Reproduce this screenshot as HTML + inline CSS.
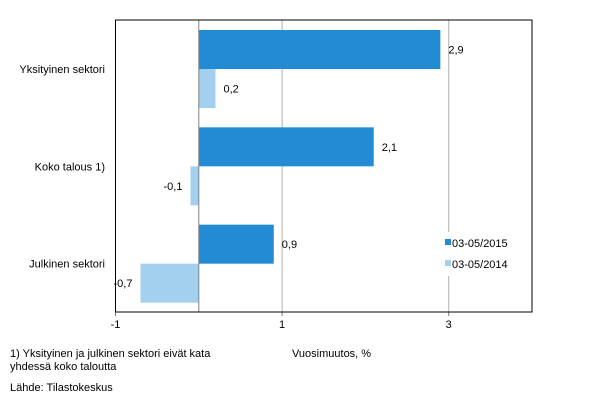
<!DOCTYPE html>
<html><head><meta charset="utf-8"><style>
body{margin:0;background:#fff;}
svg text{font-family:"Liberation Sans",sans-serif;font-size:11px;fill:#000;}
</style></head><body>
<svg width="611" height="402" xmlns="http://www.w3.org/2000/svg">
<g id="plot"></g>
<text x="10" y="357">1) Yksityinen ja julkinen  sektori eivät  kata</text>
<text x="10" y="370">yhdessä  koko taloutta</text>
<text x="10" y="391">Lähde:  Tilastokeskus</text>
<text x="292" y="357">Vuosimuutos,  %</text>
</svg>
<script>
const categories=["Yksityinen sektori","Koko talous 1)","Julkinen sektori"];
const series2015=[2.9,2.1,0.9];
const series2014=[0.2,-0.1,-0.7];
const tickValues=[-1,1,3];
const tickLabels=["-1","1","3"];
const legendLabels=["03-05/2015","03-05/2014"];
const NS="http://www.w3.org/2000/svg";
const g=document.getElementById('plot');
const L=115.5,R=532,T=20,B=312;
const xMin=-1,xMax=4;
const x=v=>L+(v-xMin)/(xMax-xMin)*(R-L);
function mk(tag,attrs,parent){const e=document.createElementNS(NS,tag);for(const k in attrs)e.setAttribute(k,attrs[k]);(parent||g).appendChild(e);return e;}
const fmt=v=>String(v).replace('.',',');
// gridlines
tickValues.forEach((t,i)=>{
 if(t!==xMin){const gl=mk('line',{x1:x(t),x2:x(t),y1:T,y2:B,stroke:'#b0b0b0','stroke-width':1});
 
 }
 const tk=mk('line',{x1:x(t),x2:x(t),y1:B,y2:B+4,stroke:'#808080'});
 
 
 const tl=mk('text',{x:x(t),y:B+16,'text-anchor':'middle'});tl.textContent=tickLabels[i];
 
 
});
const band=(B-T)/categories.length, bh=39;
categories.forEach((c,i)=>{
 const top=T+10+i*band;
 [[series2015[i],'#238bd3',top],[series2014[i],'#a2d0ee',top+bh]].forEach(([v,col,y],j)=>{
  const x0=Math.min(x(0),x(v)),w=Math.abs(x(v)-x(0));
  const r=mk('rect',{x:x0,y:y,width:w,height:bh,fill:col});
  
  
  const lx=v>=0?x(v)+8:x(v)-8;
  const t=mk('text',{x:lx,y:y+bh/2+4,'text-anchor':v>=0?'start':'end'});t.textContent=fmt(v);
  
  
 });
 const cl=mk('text',{x:105,y:top+bh+4,'text-anchor':'end'});cl.textContent=c;
 
 
});
const zl=mk('line',{x1:x(0),x2:x(0),y1:T,y2:B,stroke:'#808080'});


const fr=mk('rect',{x:L,y:T,width:R-L,height:B-T,fill:'none',stroke:'#000','stroke-width':1});


const lg=mk('rect',{x:441,y:232,width:86,height:44,fill:'#fff'});


['#238bd3','#a2d0ee'].forEach((col,i)=>{
 const s=mk('rect',{x:445,y:239+i*21,width:6,height:6,fill:col});
 
 
 const t=mk('text',{x:452,y:247+i*21});t.textContent=legendLabels[i];
 
 
});
</script>
</body></html>
